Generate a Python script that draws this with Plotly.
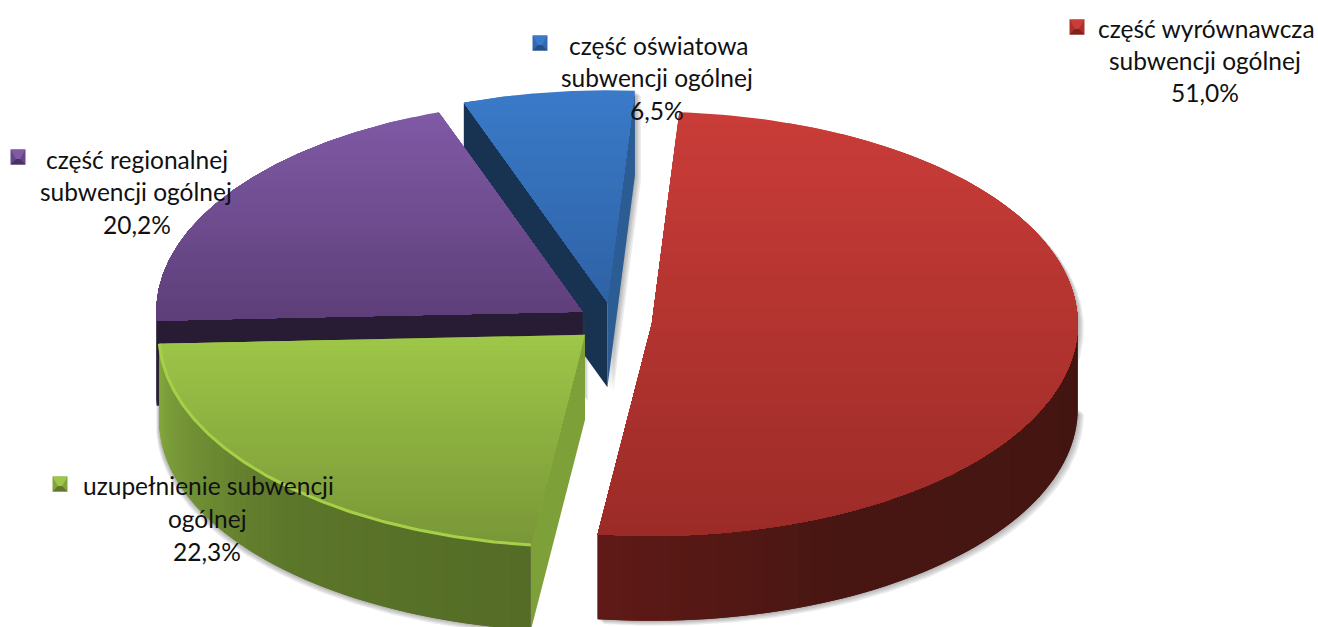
import numpy as np
import plotly.graph_objects as go

# ---------- data ----------
categories = ["część wyrównawcza subwencji ogólnej", "uzupełnienie subwencji ogólnej",
              "część regionalnej subwencji ogólnej", "część oświatowa subwencji ogólnej"]
shares = [51.0, 22.3, 20.2, 6.5]
share_labels = ["51,0%", "22,3%", "20,2%", "6,5%"]

# ---------- projection / style ----------
START = 3.7
BASE = (613, 322)
RX, RY, DEPTH = 426, 212, 85
PULL = [39, 38, 37, 40]
TOP = [((201, 60, 56), (155, 43, 39)), ((158, 198, 72), (120, 150, 55)),
       ((128, 90, 165), (92, 62, 120)), ((58, 122, 200), (46, 98, 165))]
WALL = [[(0.0, (96, 26, 23)), (0.35, (72, 22, 18)), (1.0, (66, 21, 17))],
        [(0.0, (84, 108, 38)), (0.45, (92, 118, 42)), (0.8, (118, 150, 55)), (1.0, (134, 170, 62))],
        [(0, (40, 27, 52)), (1, (40, 27, 52))],
        [(0, (40, 80, 130)), (1, (40, 80, 130))]]
CUT_START = [(90, 25, 22), (125, 160, 56), (40, 27, 52), (24, 50, 82)]
CUT_END = [(90, 25, 22), (100, 130, 45), (40, 27, 52), (43, 92, 148)]
ORDER = [3, 2, 1, 0]
FONT = "Lato, Carlito, Calibri, sans-serif"
FS = 24.5

fig = go.Figure()


def rgb(c):
    return "rgb(%d,%d,%d)" % tuple(int(round(v)) for v in c)


def mix(a, b, t):
    return tuple(a[i] + (b[i] - a[i]) * t for i in range(3))


def poly(xs, ys, color):
    fig.add_trace(go.Scatter(x=list(xs), y=list(ys), mode="lines", fill="toself", fillcolor=color,
                             line=dict(width=0), hoverinfo="skip", showlegend=False))


def clip_below(xs, ys, y0):
    """Keep the part of a polygon with y >= y0."""
    ox, oy = [], []
    n = len(xs)
    for i in range(n):
        x1, y1, x2, y2 = xs[i], ys[i], xs[(i + 1) % n], ys[(i + 1) % n]
        if y1 >= y0:
            ox.append(x1); oy.append(y1)
        if (y1 >= y0) != (y2 >= y0):
            t = (y0 - y1) / (y2 - y1)
            ox.append(x1 + (x2 - x1) * t); oy.append(y0)
    return ox, oy


def wall_color(stops, t):
    for (t0, c0), (t1, c1) in zip(stops, stops[1:]):
        if t <= t1:
            return mix(c0, c1, (t - t0) / (t1 - t0) if t1 > t0 else 0)
    return stops[-1][1]


# slice angular extents derived from values
edges = START + np.concatenate([[0], np.cumsum(shares)]) * 3.6
slices = []
for i in range(len(shares)):
    a0, a1 = edges[i], edges[i + 1]
    mid = np.radians((a0 + a1) / 2)
    cx = BASE[0] + PULL[i] * np.sin(mid)
    cy = BASE[1] - PULL[i] * np.cos(mid) * RY / RX
    slices.append((a0, a1, cx, cy))


def px(cx, a):
    return cx + RX * np.sin(np.radians(a))


def py(cy, a):
    return cy - RY * np.cos(np.radians(a))


# ---------- painter's order ----------
for i in ORDER:
    a0, a1, cx, cy = slices[i]
    ang = np.linspace(a0, a1, 160)
    ax, ay = px(cx, ang), py(cy, ang)
    tx, ty = [cx] + list(ax), [cy] + list(ay)

    # soft shadow: translucent silhouettes offset from the solid
    sil_x = [cx] + list(ax) + [ax[-1], cx]
    sil_y = [cy] + list(ay) + [ay[-1] + DEPTH, cy + DEPTH]
    front = np.linspace(max(a0, 90), min(a1, 270), 100)
    if i in (0, 1):
        sil_x = list(ax) + list(px(cx, front[::-1])) + [cx]
        sil_y = list(ay) + list(py(cy, front[::-1]) + DEPTH) + [cy + DEPTH]
    for off in (1.5, 3, 4.5, 6):
        sx = [v + off * (1 if i != 1 else -0.5) for v in sil_x]
        sy = [v + off * 0.8 for v in sil_y]
        poly(sx, sy, "rgba(60,60,60,0.10)")

    # cut faces: closing edge first so the opening edge stays in front
    for a, col in ((a1, CUT_END[i]), (a0, CUT_START[i])):
        ex, ey = px(cx, a), py(cy, a)
        poly([cx, ex, ex, cx], [cy, ey, ey + DEPTH, cy + DEPTH], rgb(col))

    # outer wall, shaded along the arc
    lo, hi = max(a0, 90), min(a1, 270)
    if hi > lo:
        grid = np.linspace(lo, hi, 61)
        for j in range(60):
            g0, g1 = grid[j], grid[min(j + 2, 60)]
            t = (grid[j] - lo) / (hi - lo)
            xs = [px(cx, g0), px(cx, g1), px(cx, g1), px(cx, g0)]
            ys = [py(cy, g0), py(cy, g1), py(cy, g1) + DEPTH, py(cy, g0) + DEPTH]
            poly(xs, ys, rgb(wall_color(WALL[i], 1 - t if i == 0 else t)))

    # top face with vertical gradient, painted in overlapping bands
    y_min, y_max = min(ty), max(ty)
    poly(tx, ty, rgb(TOP[i][0]))
    for y0 in np.linspace(y_min, y_max, 40)[1:-1]:
        bx, by = clip_below(tx, ty, y0)
        if len(bx) > 2:
            poly(bx, by, rgb(mix(TOP[i][0], TOP[i][1], (y0 - y_min) / (y_max - y_min))))

    # bright rim on the green slice
    if i == 1:
        fig.add_trace(go.Scatter(x=ax, y=ay, mode="lines", line=dict(color="rgb(166,208,72)", width=3),
                                 hoverinfo="skip", showlegend=False))

# ---------- labels ----------
LABELS = [
    # key centre, key colours, text lines as (text, centre x, centre y)
    ((1077, 27), 0, [("część wyrównawcza", 1206, 28), ("subwencji ogólnej", 1205, 60), (share_labels[0], 1205, 92)]),
    ((60, 484), 1, [("uzupełnienie subwencji", 208, 485), ("ogólnej", 207, 518), (share_labels[1], 207, 551)]),
    ((18, 157), 2, [("część regionalnej", 137, 159), ("subwencji ogólnej", 136, 191), (share_labels[2], 137, 224)]),
    ((540, 43), 3, [("część oświatowa", 658, 45), ("subwencji ogólnej", 657, 77), (share_labels[3], 657, 110)]),
]
K = 7.5
for (kx, ky), idx, lines in LABELS:
    hi_c, lo_c = TOP[idx]
    mid_c = mix(hi_c, lo_c, 0.7)
    dark = mix(lo_c, (0, 0, 0), 0.2)
    poly([kx - K, kx + K, kx + K, kx - K], [ky - K, ky - K, ky + K, ky + K], rgb(mid_c))
    poly([kx - K, kx + K, kx + 2, kx - 2], [ky - K, ky - K, ky + 2, ky + 2], rgb(hi_c))
    poly([kx - K, kx + K, kx + 2, kx - 2], [ky + K, ky + K, ky + 2, ky + 2], rgb(dark))
    for text, x, y in lines:
        fig.add_annotation(x=x, y=y, text=text, showarrow=False, xanchor="center", yanchor="middle",
                           font=dict(family=FONT, size=FS, color="#111111"))

fig.update_layout(width=1318, height=627, margin=dict(l=0, r=0, t=0, b=0), showlegend=False,
                  paper_bgcolor="white", plot_bgcolor="white",
                  xaxis=dict(range=[0, 1318], visible=False, fixedrange=True),
                  yaxis=dict(range=[627, 0], visible=False, fixedrange=True))
fig.write_html("out.html", post_script="document.body.style.margin='0';", config={"displayModeBar": False})
